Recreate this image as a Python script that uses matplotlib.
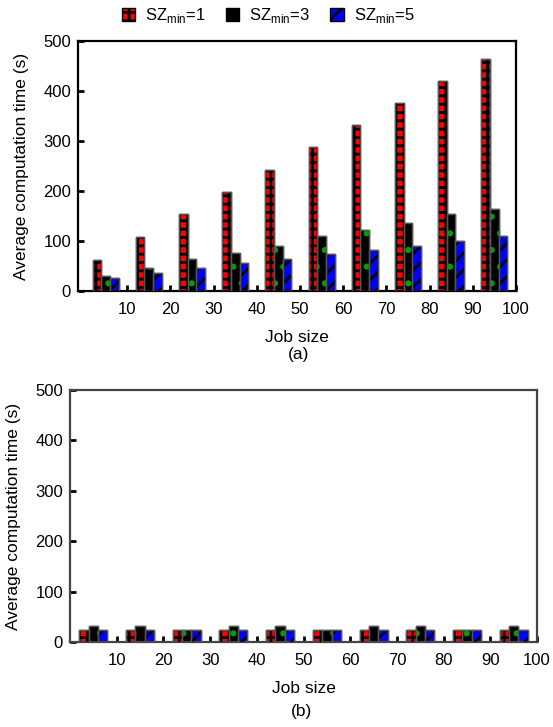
import matplotlib
matplotlib.use("Agg")
import matplotlib.pyplot as plt
import numpy as np
from matplotlib.patches import Patch

plt.rcParams['font.family'] = ['Liberation Sans', 'DejaVu Sans']
plt.rcParams['mathtext.fontset'] = 'custom'
plt.rcParams['mathtext.rm'] = 'Liberation Sans'
plt.rcParams['hatch.linewidth'] = 2.0

job_ticks = [10, 20, 30, 40, 50, 60, 70, 80, 90, 100]
group_centers = [5, 15, 25, 35, 45, 55, 65, 75, 85, 95]
labels = ['SZ$_{\\rm min}$=1', 'SZ$_{\\rm min}$=3', 'SZ$_{\\rm min}$=5']

# (a)
a_sz1 = [63, 107, 153, 198, 242, 287, 331, 375, 419, 463]
a_sz3 = [31, 46, 65, 77, 91, 110, 121, 135, 153, 164]
a_sz5 = [27, 37, 46, 56, 65, 74, 83, 91, 101, 109]

# (b)
b_sz1 = [24, 24, 24, 24, 24, 24, 24, 24, 24, 24]
b_sz3 = [32, 32, 24, 32, 32, 24, 32, 32, 24, 32]
b_sz5 = [24, 24, 24, 24, 24, 24, 24, 24, 24, 24]

styles = [
    dict(face='#ff0000', hatch='++', hcolor='black'),
    dict(face='black', hatch='.', hcolor='#00a000'),
    dict(face='#0000ff', hatch='//', hcolor='black'),
]
bw = 2.0
offsets = [-3.0, -1.0, 1.0]
fs = 12

fig = plt.figure(figsize=(5.53, 7.27), dpi=100)
ax1 = fig.add_axes([0.141, 0.5997, 0.792, 0.344])
ax2 = fig.add_axes([0.1266, 0.1169, 0.8445, 0.3466])


def draw(ax, series, xlim, spine_col):
    x = np.array(group_centers, dtype=float)
    for vals, st, off in zip(series, styles, offsets):
        ax.bar(x + off, vals, width=bw, align='edge', color=st['face'],
               edgecolor='black', linewidth=1.0, zorder=2)
        ax.bar(x + off, vals, width=bw, align='edge', color='none',
               edgecolor=st['hcolor'], hatch=st['hatch'], linewidth=0, zorder=3)
        ax.bar(x + off, vals, width=bw, align='edge', color='none',
               edgecolor='#555555', linewidth=1.0, zorder=4)
    ax.set_xlim(*xlim)
    ax.set_ylim(0, 500)
    ax.set_xticks(job_ticks)
    ax.set_yticks([0, 100, 200, 300, 400, 500])
    ax.tick_params(direction='in', length=4, width=2, labelsize=fs,
                   color='black', pad=5)
    ax.tick_params(axis='x', pad=8)
    for s in ax.spines.values():
        s.set_linewidth(1.6)
        s.set_color(spine_col)
    ax.set_ylabel('Average computation time (s)', fontsize=12.5, labelpad=10)
    ax.set_xlabel('Job size', fontsize=12.5, labelpad=9)


draw(ax1, [a_sz1, a_sz3, a_sz5], (-1.4, 100), 'black')
draw(ax2, [b_sz1, b_sz3, b_sz5], (0, 100), '#444444')

fig.text(0.54, 0.5117, '(a)', ha='center', va='center', fontsize=12.5)
fig.text(0.546, 0.022, '(b)', ha='center', va='center', fontsize=12.5)

handles = [Patch(facecolor=st['face'], edgecolor='black', hatch=st['hatch'])
           for st in styles]
fig.legend(handles, labels, loc='center', bbox_to_anchor=(0.485, 0.978),
           ncol=3, frameon=False, fontsize=fs, handlelength=0.8,
           handleheight=0.8, handletextpad=0.6, columnspacing=1.2)

fig.savefig('out.png', dpi=100)
